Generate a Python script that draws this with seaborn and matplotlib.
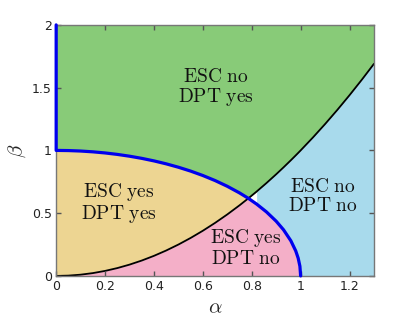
import numpy as np
import pandas as pd
import matplotlib
matplotlib.use("Agg")
import matplotlib.pyplot as plt
import seaborn as sns

# alpha grid and the two boundary curves
alpha = np.array([0, 0.05, 0.1, 0.15, 0.2, 0.25, 0.3, 0.35, 0.4, 0.45, 0.5, 0.55,
                  0.6, 0.65, 0.7, 0.75, 0.786, 0.82, 0.86, 0.9, 0.93, 0.96, 0.98,
                  0.99, 0.997, 1.0, 1.05, 1.1, 1.15, 1.2, 1.25, 1.3])
# black curve (ESC boundary)
beta_black = np.array([0, 0.0025, 0.01, 0.0225, 0.04, 0.0625, 0.09, 0.1225, 0.16,
                       0.2025, 0.25, 0.3025, 0.36, 0.4225, 0.49, 0.5625, 0.618,
                       0.6724, 0.7396, 0.81, 0.8649, 0.9216, 0.9604, 0.9801, 0.994,
                       1.0, 1.1025, 1.21, 1.3225, 1.44, 1.5625, 1.69])
# blue curve (DPT boundary), zero past alpha = 1
beta_blue = np.array([1.0, 0.9987, 0.995, 0.9887, 0.9798, 0.9682, 0.9539, 0.9367,
                      0.9165, 0.893, 0.866, 0.8352, 0.8, 0.7599, 0.7141, 0.6614,
                      0.6183, 0.5724, 0.5103, 0.4359, 0.3676, 0.28, 0.199, 0.1411,
                      0.0774, 0.0, 0, 0, 0, 0, 0, 0])
beta_top = 2.0

region_labels = ["ESC no\nDPT yes", "ESC yes\nDPT yes", "ESC no\nDPT no", "ESC yes\nDPT no"]
label_pos = [(0.655, 1.505), (0.255, 0.58), (1.09, 0.637), (0.776, 0.223)]

xticks = [0, 0.2, 0.4, 0.6, 0.8, 1.0, 1.2]
xtick_labels = ["0", "0.2", "0.4", "0.6", "0.8", "1", "1.2"]
yticks = [0, 0.5, 1.0, 1.5, 2.0]
ytick_labels = ["0", "0.5", "1", "1.5", "2"]

c_green = "#88cb78"
c_yellow = "#edd592"
c_pink = "#f4afc8"
c_blue = "#a8daec"

sns.set_style("ticks")
plt.rcParams["mathtext.fontset"] = "cm"

fig = plt.figure(figsize=(4.16, 3.19), dpi=100)
ax = fig.add_axes([0.135, 0.135, 0.764, 0.787])

ax.fill_between(alpha, np.maximum(beta_black, beta_blue), beta_top, color=c_green, lw=0)
ax.fill_between(alpha, beta_black, beta_blue, where=beta_blue >= beta_black,
                color=c_yellow, lw=0)
ax.fill_between(alpha, 0, np.minimum(beta_black, beta_blue), color=c_pink, lw=0)
ax.fill_between(alpha, beta_blue, beta_black, where=beta_black >= beta_blue,
                color=c_blue, lw=0)

sns.lineplot(x=alpha, y=beta_black, color="black", lw=1.3, ax=ax, sort=False,
             estimator=None)

arc = alpha <= 1.0
blue_df = pd.DataFrame({"a": np.concatenate([[0.0], alpha[arc]]),
                        "b": np.concatenate([[beta_top], beta_blue[arc]])})
sns.lineplot(data=blue_df, x="a", y="b", color="#0000ee", lw=2.3, ax=ax,
             sort=False, estimator=None, zorder=7, clip_on=False)

for txt, (x, y) in zip(region_labels, label_pos):
    lines = txt.split("\n")
    s = "\n".join(r"$\mathrm{" + l.replace(" ", r"\ ") + "}$" for l in lines)
    ax.text(x, y, s, ha="center", va="center", fontsize=14, color="#111111",
            linespacing=1.0)

ax.set_xlim(0, 1.3)
ax.set_ylim(0, 2)
ax.set_xticks(xticks)
ax.set_xticklabels(xtick_labels)
ax.set_yticks(yticks)
ax.set_yticklabels(ytick_labels)
ax.set_axisbelow(False)
ax.tick_params(direction="in", length=3.5, width=1.0, color="#555555",
               labelsize=9, labelcolor="#222222", top=True, right=True, pad=3)
for sp in ax.spines.values():
    sp.set_visible(True)
    sp.set_color("#777777")
    sp.set_linewidth(1.0)
    sp.set_zorder(6)
ax.set_xlabel(r"$\alpha$", fontsize=15, labelpad=3)
ax.set_ylabel(r"$\beta$", fontsize=15, labelpad=3)

fig.savefig("out.png", dpi=100)
